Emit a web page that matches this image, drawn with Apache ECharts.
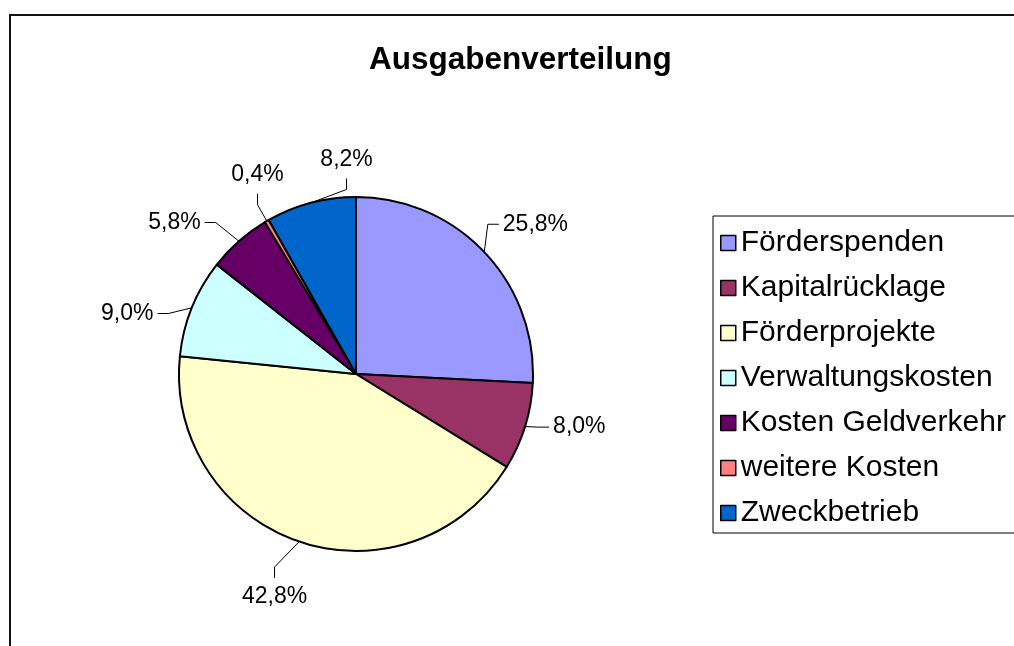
<!DOCTYPE html>
<html>
<head>
<meta charset="utf-8">
<script src="https://cdn.jsdelivr.net/npm/echarts@6/dist/echarts.min.js"></script>
<style>
html,body{margin:0;padding:0;background:#fff;}
#chart{width:1014px;height:646px;}
</style>
</head>
<body>
<div id="chart"></div>
<script>
const titleText = 'Ausgabenverteilung';
const categories = ['Förderspenden','Kapitalrücklage','Förderprojekte','Verwaltungskosten','Kosten Geldverkehr','weitere Kosten','Zweckbetrieb'];
const values = [25.8, 8.0, 42.8, 9.0, 5.8, 0.4, 8.2];
const colors = ['#9999FF','#993366','#FFFFCC','#CCFFFF','#660066','#FF8080','#0066CC'];

// layout (label placement like the original, not data)
const PIE_CX = 356, PIE_CY = 374, PIE_R = 177, LABEL_GAP = 38;
const labelNudge = [[0,6],[-7,-14],[-2,9],[-5,24],[-22,18],[23,-4],[52,4]];

const FONT = '"Liberation Sans", Arial, sans-serif';
const chart = echarts.init(document.getElementById('chart'), null, {renderer:'canvas'});
const data = categories.map((c,i)=>({name:c, value:values[i], itemStyle:{color:colors[i]}}));
const total = values.reduce((a,b)=>a+b,0);
const cum = []; values.reduce((a,v,i)=>{cum[i]=a; return a+v;},0);

function labelLayout(p){
  const i = p.dataIndex;
  const th = (cum[i] + values[i]/2)/total*2*Math.PI;
  const dx = Math.sin(th), dy = -Math.cos(th);
  const w = p.labelRect.width, hh = 11;
  const ex = PIE_CX + PIE_R*dx, ey = PIE_CY + PIE_R*dy;
  const lx = PIE_CX + dx*(PIE_R+LABEL_GAP) + dx*w/2 + labelNudge[i][0];
  const ly = PIE_CY + dy*(PIE_R+LABEL_GAP) + dy*hh + labelNudge[i][1];
  let end, bend;
  if (Math.abs(dy) > 0.85){
    const s = Math.sign(dy);
    end = [lx, ly - s*(hh+8)];
    bend = [lx, end[1] - s*11];
  } else {
    const s = Math.sign(dx);
    end = [lx - s*(w/2+4), ly];
    bend = [end[0] - s*11, ly];
  }
  return {x:lx, y:ly, align:'center', verticalAlign:'middle', labelLinePoints:[[ex,ey],bend,end]};
}

chart.setOption({
  animation:false,
  backgroundColor:'#fff',
  graphic:[{
    type:'rect', silent:true, z:-1,
    shape:{x:10, y:15, width:1100, height:700},
    style:{fill:'#fff', stroke:'#111', lineWidth:2}
  }],
  title:{
    text:titleText, left:364, top:39,
    textStyle:{fontFamily:FONT, fontSize:31.5, fontWeight:'bold', color:'#000', lineHeight:32}
  },
  legend:{
    orient:'vertical', left:713, top:216,
    padding:[12,40,5,7],
    itemWidth:15, itemHeight:15, itemGap:15,
    icon:'rect',
    borderColor:'#000', borderWidth:1,
    backgroundColor:'#fff',
    itemStyle:{borderColor:'#000', borderWidth:1.5},
    textStyle:{fontFamily:FONT, fontSize:30, lineHeight:30, color:'#000'},
    data:categories
  },
  series:[{
    type:'pie',
    center:[PIE_CX,PIE_CY],
    radius:PIE_R,
    startAngle:90,
    clockwise:true,
    avoidLabelOverlap:false,
    emphasis:{disabled:true},
    itemStyle:{borderColor:'#000', borderWidth:2},
    label:{
      show:true, position:'outside',
      fontFamily:FONT, fontSize:23, color:'#000',
      formatter:p=>p.value.toFixed(1).replace('.',',')+'%'
    },
    labelLine:{show:true, length:20, length2:10, smooth:false, lineStyle:{color:'#000', width:1}},
    labelLayout:labelLayout,
    data:data
  }]
});
</script>
</body>
</html>
